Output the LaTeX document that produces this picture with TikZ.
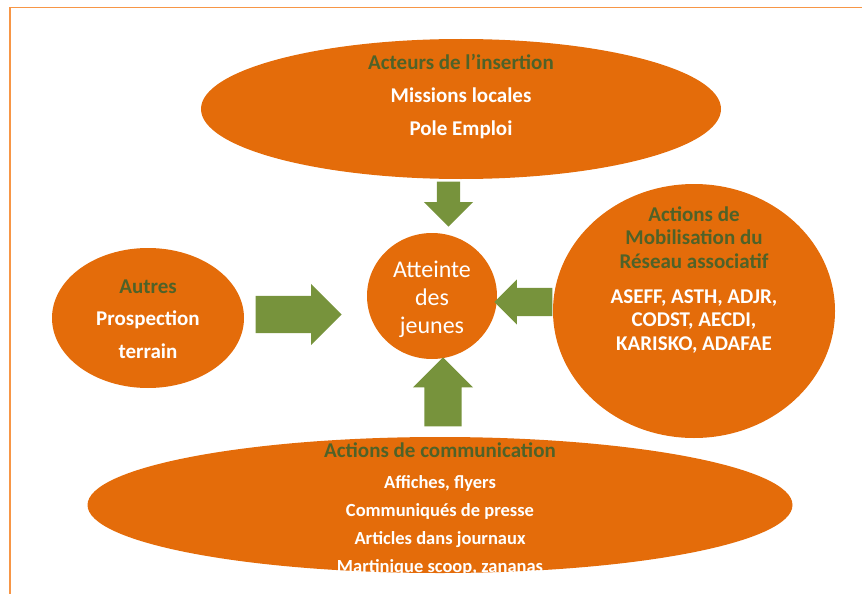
\documentclass[tikz,border=0pt]{standalone}
\usepackage{fontspec}
\setmainfont{Carlito}
\usetikzlibrary{shapes.geometric,shapes.arrows}

\definecolor{blobfill}{HTML}{E46C0A}
\definecolor{pushgreen}{HTML}{77933C}
\definecolor{titlegreen}{HTML}{4F6228}
\definecolor{framecol}{HTML}{F79646}

\tikzset{
  blob/.style={ellipse, fill=blobfill, inner sep=0pt},
  push/.style={single arrow, fill=pushgreen, single arrow tip angle=90, anchor=tip},
  blobtext/.style={align=center, text=white, font=\bfseries\fontsize{21}{33}\selectfont},
}

\begin{document}
\begin{tikzpicture}[x=1pt,y=-1pt]
    \useasboundingbox (0,0) rectangle (862,594);
    \draw[framecol, line width=1.5pt] (10,594) |- (862,7.5);

    \node[blob, minimum width=520pt, minimum height=140pt] (acteurs) at (461,109) {};
    \node[blob, minimum width=130pt, minimum height=126pt] (jeunes) at (432,296) {};
    \node[blob, minimum width=192pt, minimum height=140pt] (autres) at (148,318) {};
    \node[blob, minimum width=282pt, minimum height=254pt] (reseau) at (694,311) {};
    \node[blob, minimum width=705pt, minimum height=136pt] (communication) at (440,505) {};

    \node[blobtext] (acteursText) at (461,97)
        {\textcolor{titlegreen}{Acteurs de l’insertion}\\Missions locales\\Pole Emploi};
    \node[blobtext, font=\fontsize{24}{28}\selectfont] (jeunesText) at (432,299)
        {Atteinte\\des\\jeunes};
    \node[blobtext, font=\bfseries\fontsize{21}{32.5}\selectfont] (autresText) at (148,319)
        {\textcolor{titlegreen}{Autres}\\Prospection\\terrain};
    \node[blobtext, font=\bfseries\fontsize{21}{23.5}\selectfont] (reseauText) at (694,280)
        {\textcolor{titlegreen}{Actions de}\\\textcolor{titlegreen}{Mobilisation du}\\
         \textcolor{titlegreen}{Réseau associatif}\\[11.5pt]
         ASEFF, ASTH, ADJR,\\CODST, AECDI,\\KARISKO, ADAFAE};
    \node[blobtext, font=\bfseries\fontsize{18.5}{28}\selectfont] (communicationText) at (440,509)
        {{\fontsize{21}{28}\selectfont\textcolor{titlegreen}{Actions de communication}}\\[3pt]
         Affiches, flyers\\Communiqués de presse\\Articles dans journaux\\Martinique scoop, zananas};

    \node[push, inner sep=11.5pt, single arrow head extend=13pt, minimum height=45pt,
        shape border rotate=270] (pushTop) at (448.5,227) {};
    \node[push, inner sep=18.5pt, single arrow head extend=12pt, minimum height=86pt]
        (pushLeft) at (342,314.5) {};
    \node[push, inner sep=14pt, single arrow head extend=8.5pt, minimum height=58pt,
        shape border rotate=177] (pushRight) at (494,302) {};
    \node[push, inner sep=18.5pt, single arrow head extend=11.5pt, minimum height=69pt,
        shape border rotate=90] (pushBottom) at (443,357) {};

\end{tikzpicture}
\end{document}
